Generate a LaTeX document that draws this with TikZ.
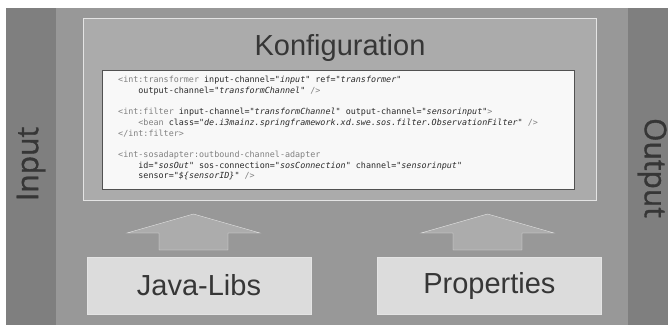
\documentclass[tikz,border=0pt]{standalone}
\usepackage{fontspec}
\setmainfont{Liberation Sans}
\setmonofont{DejaVu Sans Mono}
\newfontfamily\bandfont[FakeBold=1.2]{Open Sans}
\usetikzlibrary{positioning}
\definecolor{bandgray}{HTML}{7F7F7F}
\definecolor{maingray}{HTML}{989898}
\definecolor{konfgray}{HTML}{ABABAB}
\definecolor{libgray}{HTML}{DCDCDC}
\definecolor{arrowgray}{HTML}{ACACAC}
\definecolor{edgelight}{HTML}{E4E4E4}
\definecolor{codebg}{HTML}{F8F8F8}
\definecolor{textdark}{HTML}{363636}
\definecolor{codedark}{HTML}{2A2A2A}
\definecolor{taggray}{HTML}{808080}
\tikzset{x=1pt, y=1pt, line width=1pt, node distance=10pt, font=\fontsize{29}{29}\selectfont}
\tikzstyle{band} = [fill=bandgray, rectangle, inner sep=0pt, anchor=south west, minimum height=317pt]
\tikzstyle{bandlabel} = [text=textdark, inner sep=0pt, font={\bandfont\fontsize{30}{30}\selectfont}]
\tikzstyle{area} = [fill=maingray, rectangle, inner sep=0pt, anchor=south west]
\tikzstyle{konf} = [draw=edgelight, fill=konfgray, rectangle, inner sep=0pt, anchor=south west]
\tikzstyle{codebox} = [draw=black!68, fill=codebg, rectangle, inner sep=0pt, anchor=south west]
\tikzstyle{codetext} = [inner sep=0pt, anchor=north west, align=left, text=codedark, font={\ttfamily\fontsize{8.4}{10.7}\selectfont}]
\tikzstyle{libbox} = [draw=edgelight, fill=libgray, rectangle, minimum width=224pt, minimum height=57pt, inner sep=0pt, text=textdark]
\tikzstyle{blockarrow} = [draw=edgelight, fill=arrowgray, line join=miter]
\tikzset{uparrow/.pic={\draw[blockarrow] (0,19) -- (66.5,0) -- (34.5,0) -- (34.5,-17) -- (-34.5,-17) -- (-34.5,0) -- (-66.5,0) -- cycle;}}
\newcommand{\xtag}[1]{\textcolor{taggray}{#1}}
\newcommand{\xval}[1]{\textit{#1}}
\newcommand{\ind}{\phantom{xxxx}}

\begin{document}
\begin{tikzpicture}
		\useasboundingbox [fill=white] (0,0) rectangle (668,325);
		\node [area, minimum width=572pt, minimum height=317pt] (main) at (56,0) {};
		\node [band, minimum width=50pt] (input) at (6,0) {};
		\node [band, minimum width=40pt] (output) at (628,0) {};
		\node [bandlabel, rotate=90] (inlabel) at (31,161) {Input};
		\node [bandlabel, rotate=-90] (outlabel) at (652,157) {Output};

		\node [konf, minimum width=513pt, minimum height=182pt] (konf) at (83,125) {};
		\node [anchor=base, text=textdark] (konftitle) at (340,270) {Konfiguration};
		\node [codebox, minimum width=472pt, minimum height=119pt] (code) at (102,136) {};
		\node [codetext] (codetxt) at (118,249) {%
\xtag{<int:transformer} input-channel="\xval{input}" ref="\xval{transformer}"\\
\ind output-channel="\xval{transformChannel}" \xtag{/>}\\[10.7pt]
\xtag{<int:filter} input-channel="\xval{transformChannel}" output-channel="\xval{sensorinput}"\xtag{>}\\
\ind\xtag{<bean} class="\xval{de.i3mainz.springframework.xd.swe.sos.filter.ObservationFilter}" \xtag{/>}\\
\xtag{</int:filter>}\\[10.7pt]
\xtag{<int-sosadapter:outbound-channel-adapter}\\
\ind id="\xval{sosOut}" sos-connection="\xval{sosConnection}" channel="\xval{sensorinput}"\\
\ind sensor="\xval{\$\{sensorID\}}" \xtag{/>}};

		\node [libbox] (javalibs) at (199,39.5) {Java-Libs};
		\node [libbox, right=66pt of javalibs] (props) {Properties};

		\pic (jarrow) at (193.5,92) {uparrow};
		\pic (parrow) at (487.5,92) {uparrow};
	\end{tikzpicture}
\end{document}
